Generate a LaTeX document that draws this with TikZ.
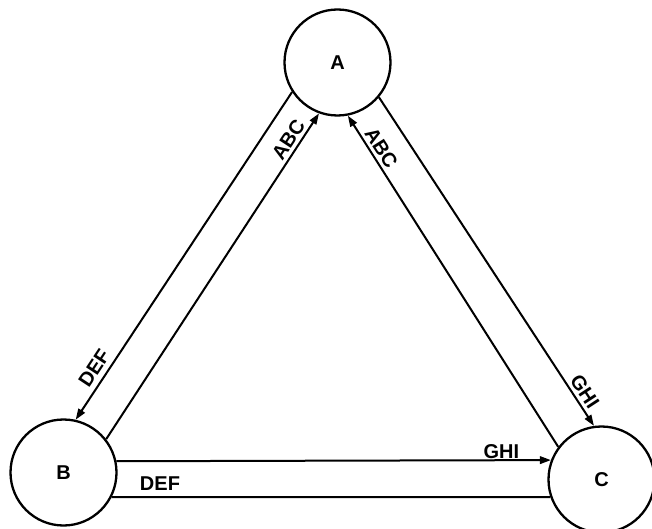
\documentclass[tikz,border=0pt]{standalone}
\usepackage{fontspec}
\setmainfont{Liberation Sans}
\usetikzlibrary{arrows.meta}
\begin{document}
\begin{tikzpicture}[x=1pt,y=1pt,
  state/.style={circle,draw,line width=2.3pt,minimum size=106pt,inner sep=0pt,font=\fontsize{20}{22}\selectfont\bfseries},
  flow/.style={line width=2pt,-{Triangle[length=11pt,width=7.5pt]}},
  plain/.style={line width=2pt},
  lab/.style={font=\fontsize{20}{22}\selectfont\bfseries,inner sep=1pt,sloped}]
\useasboundingbox (0,0) rectangle (652,528);
\node[state] (A) at (337.5,465.5) {A};
\node[state] (B) at (63.5,55.5) {B};
\node[state] (C) at (601.5,48.5) {C};
% A <-> B
\draw[flow] (A.213.8) -- (B.77.6) node[lab,pos=0.865,above=4pt] {DEF};
\draw[flow] (B.38.4) -- (A.250.9) node[lab,pos=0.90,above=2pt] {ABC};
% A <-> C
\draw[flow] (C.143.2) -- (A.281.3) node[lab,pos=0.885,above=2pt] {ABC};
\draw[flow] (A.320.1) -- (C.98.9) node[lab,pos=0.915,above=2pt] {GHI};
% B <-> C
\draw[flow] (B.12.6) -- (C.159.1) node[lab,pos=0.886,above=0pt] {GHI};
\draw[plain] (B.333.7) -- (C.199.5) node[lab,pos=0.11,above=5pt] {DEF};
\end{tikzpicture}
\end{document}
